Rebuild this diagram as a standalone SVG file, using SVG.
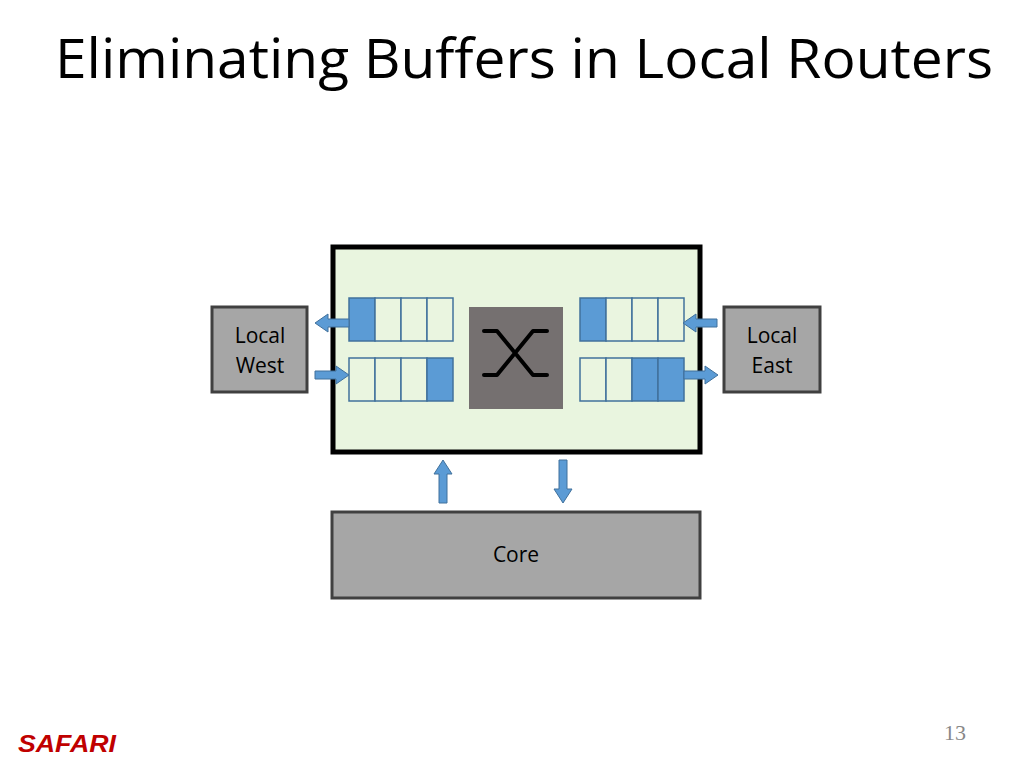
<svg xmlns="http://www.w3.org/2000/svg" width="1024" height="768" viewBox="0 0 1024 768">
<style>
.t{font-family:"Open Sans","Liberation Sans",sans-serif;fill:#000}
.n{fill:#a6a6a6;stroke:#404040;stroke-width:3}
.c{fill:#eaf5e0;stroke:#41719c;stroke-width:1.5}
.f{fill:#5b9bd5;stroke:#41719c;stroke-width:1.5}
.a{fill:#5b9bd5;stroke:#41719c;stroke-width:1}
</style>
<rect width="1024" height="768" fill="#fff"/>
<text class="t" x="55" y="78" font-size="54" textLength="938" lengthAdjust="spacingAndGlyphs">Eliminating Buffers in Local Routers</text>
<g id="router">
<rect x="333" y="247" width="367" height="205" fill="#e9f5df" stroke="#000" stroke-width="5"/>
<rect x="469" y="307" width="94" height="102" fill="#757070"/>
<path d="M484 331 H497 L533 375 H547 M484 375 H497 L533 331 H547" fill="none" stroke="#000" stroke-width="4" stroke-linejoin="round" stroke-linecap="round"/>
</g>
<g id="buffers">
<rect class="f" x="349" y="298" width="26" height="43"/><rect class="c" x="375" y="298" width="26" height="43"/><rect class="c" x="401" y="298" width="26" height="43"/><rect class="c" x="427" y="298" width="26" height="43"/>
<rect class="c" x="349" y="358" width="26" height="43"/><rect class="c" x="375" y="358" width="26" height="43"/><rect class="c" x="401" y="358" width="26" height="43"/><rect class="f" x="427" y="358" width="26" height="43"/>
<rect class="f" x="580" y="298" width="26" height="43"/><rect class="c" x="606" y="298" width="26" height="43"/><rect class="c" x="632" y="298" width="26" height="43"/><rect class="c" x="658" y="298" width="26" height="43"/>
<rect class="c" x="580" y="358" width="26" height="43"/><rect class="c" x="606" y="358" width="26" height="43"/><rect class="f" x="632" y="358" width="26" height="43"/><rect class="f" x="658" y="358" width="26" height="43"/>
</g>
<g id="west"><rect class="n" x="212" y="307" width="95" height="85"/><text class="t" x="260" y="343" font-size="21" text-anchor="middle">Local</text><text class="t" x="260" y="373" font-size="21" text-anchor="middle">West</text></g>
<g id="east"><rect class="n" x="724" y="307" width="96" height="85"/><text class="t" x="772" y="343" font-size="21" text-anchor="middle">Local</text><text class="t" x="772" y="373" font-size="21" text-anchor="middle">East</text></g>
<g id="core"><rect class="n" x="332" y="512" width="368" height="86"/><text class="t" x="516" y="562" font-size="21" text-anchor="middle">Core</text></g>
<g id="connectors">
<path class="a" d="M349 319 H328 V314 L315 323 L328 332 V327 H349 Z"/>
<path class="a" d="M315 371 H336 V366 L349 375 L336 384 V379 H315 Z"/>
<path class="a" d="M717 319 H696 V314 L683 323 L696 332 V327 H717 Z"/>
<path class="a" d="M684 371 H705 V366 L718 375 L705 384 V379 H684 Z"/>
<path class="a" d="M439 503 V474 H434 L443 460 L452 474 H447 V503 Z"/>
<path class="a" d="M559 460 V489 H554 L563 503 L572 489 H567 V460 Z"/>
</g>
<text x="18" y="752" font-family="Liberation Sans,sans-serif" font-size="23" font-weight="bold" font-style="italic" fill="#c00000" textLength="98" lengthAdjust="spacingAndGlyphs">SAFARI</text>
<text x="955" y="740" font-family="Liberation Serif,serif" font-size="22" fill="#888" text-anchor="middle">13</text>
</svg>
